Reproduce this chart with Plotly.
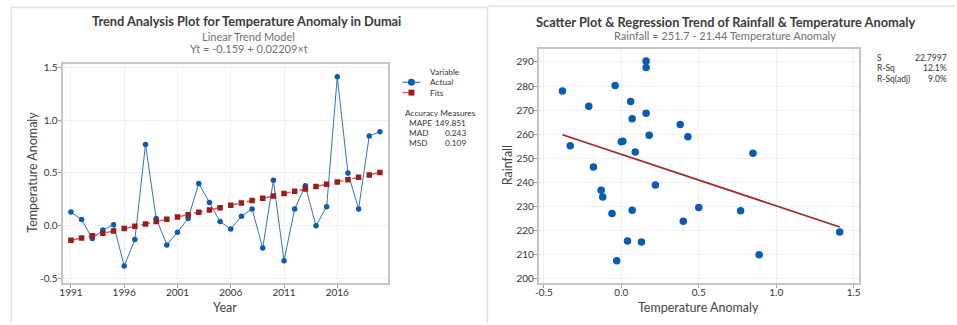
import plotly.graph_objects as go

W, H = 957, 325

years = list(range(1991, 2021))
actual = [0.13, 0.06, -0.12, -0.04, 0.01, -0.38, -0.13, 0.77, 0.07, -0.18,
          -0.06, 0.07, 0.40, 0.22, 0.04, -0.03, 0.09, 0.16, -0.21, 0.43,
          -0.33, 0.16, 0.38, 0.00, 0.18, 1.41, 0.50, 0.16, 0.85, 0.89]
fits = [-0.137, -0.115, -0.093, -0.071, -0.049, -0.026, -0.004, 0.018, 0.040, 0.062,
        0.084, 0.106, 0.128, 0.150, 0.172, 0.194, 0.217, 0.239, 0.261, 0.283,
        0.305, 0.327, 0.349, 0.371, 0.393, 0.415, 0.437, 0.460, 0.482, 0.504]
rainfall = [215.3, 273.6, 234.0, 280.2, 257.1, 278.0, 236.7, 228.2, 266.4, 246.4,
            227.1, 228.5, 223.9, 238.9, 215.7, 207.5, 252.6, 290.4, 271.6, 259.0,
            255.2, 287.7, 264.0, 256.9, 259.6, 219.4, 229.6, 268.7, 252.1, 210.0]
reg_x = [-0.38, 1.41]
reg_y = [259.8, 221.5]

year_ticks = [1991, 1996, 2001, 2006, 2011, 2016]
anom_ticks = [-0.5, 0.0, 0.5, 1.0, 1.5]
anom_ticklabels = ["-0.5", "0.0", "0.5", "1.0", "1.5"]
rain_ticks = [200, 210, 220, 230, 240, 250, 260, 270, 280, 290]
scat_xticks = [-0.5, 0.0, 0.5, 1.0, 1.5]
scat_xticklabels = ["-0.5", "0.0", "0.5", "1.0", "1.5"]

legend_names = ["Actual", "Fits"]
acc_names = ["MAPE", "MAD", "MSD"]
acc_vals = ["149.851", "0.243", "0.109"]
st_names = ["S", "R-Sq", "R-Sq(adj)"]
st_vals = ["22.7997", "12.1%", "9.0%"]

FONT = "Lato"
BLUE = "#0a5cb0"
BLUE_LINE = "#2f74c0"
RED = "#9e1b1b"
RED_LINE = "#d06060"


def px(x):
    return x / W


def py(y):
    return 1 - y / H


fig = go.Figure()
fig.add_trace(go.Scatter(x=years, y=actual, mode="lines+markers", name=legend_names[0],
                         line=dict(color=BLUE_LINE, width=1),
                         marker=dict(symbol="circle", size=5.5, color=BLUE),
                         xaxis="x", yaxis="y", showlegend=False))
fig.add_trace(go.Scatter(x=years, y=fits, mode="lines+markers", name=legend_names[1],
                         line=dict(color=RED_LINE, width=1.5, dash="dash"),
                         marker=dict(symbol="square", size=5.5, color=RED),
                         xaxis="x", yaxis="y", showlegend=False))
fig.add_trace(go.Scatter(x=actual, y=rainfall, mode="markers", showlegend=False,
                         marker=dict(symbol="circle", size=7.5, color=BLUE),
                         xaxis="x2", yaxis="y2"))
fig.add_trace(go.Scatter(x=reg_x, y=reg_y, mode="lines", showlegend=False,
                         line=dict(color="#a3262a", width=1.8),
                         xaxis="x2", yaxis="y2"))

axis_common = dict(showline=True, mirror=True, linecolor="#c4c4c4", linewidth=2,
                   showgrid=True, gridcolor="#f0f0f0", gridwidth=1, zeroline=False,
                   ticks="outside", ticklen=3, tickcolor="#9a9a9a",
                   tickfont=dict(family=FONT, size=10, color="#333333"))

fig.update_layout(
    width=W, height=H, margin=dict(l=0, r=0, t=0, b=0),
    paper_bgcolor="white", plot_bgcolor="white",
    font=dict(family=FONT, color="#333333"),
    showlegend=False,
    xaxis=dict(domain=[px(59), px(386)], range=[1990.22, 2020.72], tickvals=year_ticks,
               anchor="y", ticklabelstandoff=-4, **axis_common),
    yaxis=dict(domain=[py(284), py(62)], range=[-0.537, 1.53], tickvals=anom_ticks,
               ticktext=anom_ticklabels, anchor="x", ticklabelstandoff=-2, **axis_common),
    xaxis2=dict(domain=[px(538.3), px(860.3)], range=[-0.532, 1.534], tickvals=scat_xticks,
                ticktext=scat_xticklabels, anchor="y2", ticklabelstandoff=-4, **axis_common),
    yaxis2=dict(domain=[py(284), py(46.7)], range=[198.4, 295.4], tickvals=rain_ticks,
                anchor="x2", ticklabelstandoff=-2, **axis_common),
)

ann = []


def text(x, y, s, size, color="#333333", xanchor="center", weight=None, angle=0):
    f = dict(family=FONT, size=size, color=color)
    if weight:
        f["weight"] = weight
    ann.append(dict(x=px(x), y=py(y), xref="paper", yref="paper", text=s, showarrow=False,
                    xanchor=xanchor, yanchor="middle", font=f, textangle=angle))


text(244, 18, "Trend Analysis Plot for Temperature Anomaly in Dumai", 12.8, "#3a3a3a", weight="bold")
text(246, 34, "Linear Trend Model", 11, "#707070")
text(246.5, 46.5, "Yt = -0.159 + 0.02209×t", 11, "#707070")
text(726, 19.5, "Scatter Plot &amp; Regression Trend of Rainfall &amp; Temperature Anomaly", 12.8, "#3a3a3a", weight="bold")
text(726, 33.5, "Rainfall = 251.7 - 21.44 Temperature Anomaly", 11, "#707070")

# axis titles
AX_T = 12.5
text(222.7, 309, "Year", AX_T, "#444444")
text(28.5, 172, "Temperature Anomaly", AX_T, "#444444", angle=-90)
text(699, 309, "Temperature Anomaly", AX_T, "#444444")
text(507.5, 164.5, "Rainfall", AX_T, "#444444", angle=-90)

# legend block (drawn as text + decorative keys)
LF = 8.3
text(427, 70, "Variable", LF, "#333333", xanchor="left")
text(427, 80.5, legend_names[0], LF, "#333333", xanchor="left")
text(427, 91, legend_names[1], LF, "#333333", xanchor="left")

text(402, 112, "Accuracy Measures", LF, "#333333", xanchor="left")
for i, (n, v) in enumerate(zip(acc_names, acc_vals)):
    yy = 122 + 10.2 * i
    text(405.5, yy, n, LF, "#333333", xanchor="left")
    text(467, yy, v, LF, "#333333", xanchor="right")

for i, (n, v) in enumerate(zip(st_names, st_vals)):
    yy = 56 + 10.5 * i
    text(876, yy, n, 8.5, "#333333", xanchor="left")
    text(951, yy, v, 8.5, "#333333", xanchor="right")

fig.update_layout(annotations=ann)

BORDER = "#e2e2e2"
shapes = [
    dict(type="line", xref="paper", yref="paper", x0=px(7), x1=px(486), y0=py(4.5), y1=py(4.5),
         line=dict(color=BORDER, width=1.5)),
    dict(type="line", xref="paper", yref="paper", x0=px(7.3), x1=px(7.3), y0=py(4.5), y1=0,
         line=dict(color=BORDER, width=1.5)),
    dict(type="line", xref="paper", yref="paper", x0=px(486.5), x1=px(486.5), y0=py(3.3), y1=0,
         line=dict(color=BORDER, width=1.5)),
    dict(type="line", xref="paper", yref="paper", x0=px(486.5), x1=1, y0=py(3.3), y1=py(3.3),
         line=dict(color=BORDER, width=1.5)),
    # legend keys
    dict(type="line", xref="paper", yref="paper", x0=px(401), x1=px(419), y0=py(80.5), y1=py(80.5),
         line=dict(color=BLUE_LINE, width=1.2)),
    dict(type="circle", xref="paper", yref="paper", x0=px(406.5), x1=px(413.5),
         y0=py(84), y1=py(77), fillcolor=BLUE, line=dict(color=BLUE, width=0)),
    dict(type="line", xref="paper", yref="paper", x0=px(401), x1=px(419), y0=py(91), y1=py(91),
         line=dict(color=RED_LINE, width=1.2, dash="dash")),
    dict(type="rect", xref="paper", yref="paper", x0=px(407), x1=px(413),
         y0=py(94), y1=py(88), fillcolor=RED, line=dict(color=RED, width=0)),
]
fig.update_layout(shapes=shapes)

fig.write_html("out.html")
